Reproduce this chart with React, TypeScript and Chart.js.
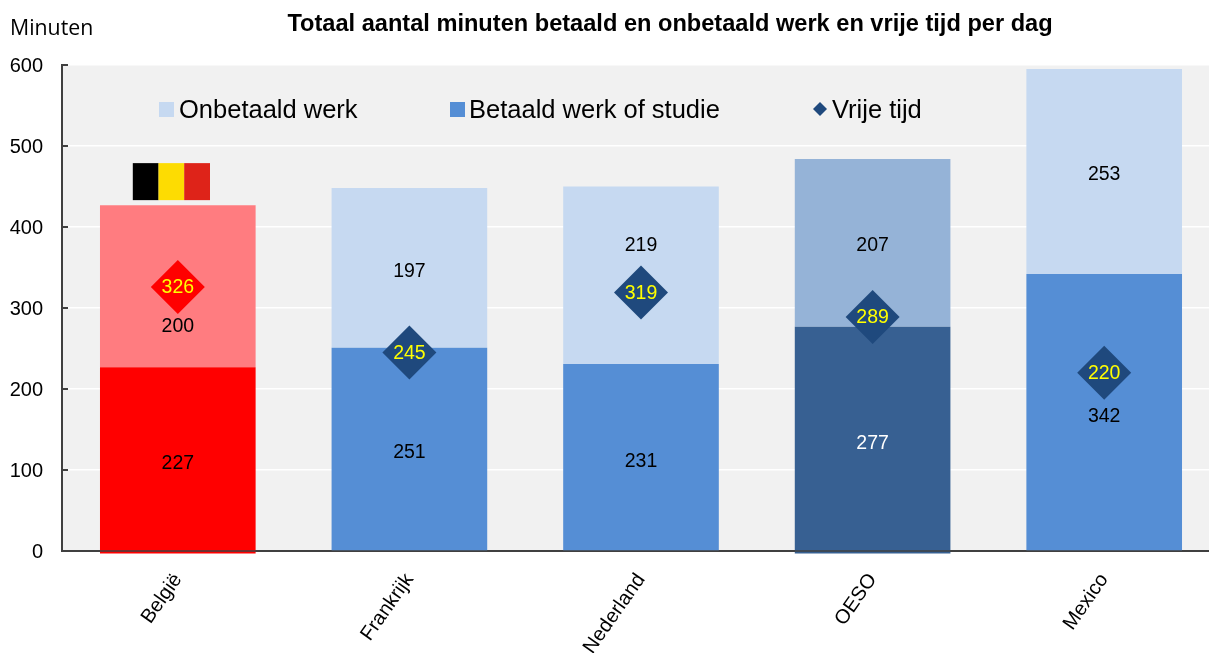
import React, { useEffect, useRef } from "react";
import { Chart, registerables } from "chart.js";

Chart.register(...registerables);

const categories = ["België", "Frankrijk", "Nederland", "OESO", "Mexico"];
const unpaidWork = [200, 197, 219, 207, 253];
const paidWork = [227, 251, 231, 277, 342];
const freeTime = [326, 245, 319, 289, 220];
const axisOverhang = [-3, null, null, -3, null];
const yTicks = [0, 100, 200, 300, 400, 500, 600];

const unpaidColors = ["#ff7c80", "#c6d9f1", "#c6d9f1", "#95b3d7", "#c6d9f1"];
const paidColors = ["#ff0000", "#558ed5", "#558ed5", "#376092", "#558ed5"];
const freeColors = ["#ff0000", "#1f497d", "#1f497d", "#1f497d", "#1f497d"];
const paidLabelColors = ["#000", "#000", "#000", "#fff", "#000"];
// pixel nudges of the value labels from their bar's centre
const paidNudge = [5, 4, 5, 5, 5];
const unpaidNudge = [40, 4, -30, 3, 3];

const SANS = '"Liberation Sans", Arial, sans-serif';

const decor = {
  id: "decor",
  beforeDraw(chart: any) {
    const { ctx, chartArea: a } = chart;
    ctx.save();
    ctx.fillStyle = "#f1f1f1";
    ctx.fillRect(a.left, a.top, a.right - a.left, a.bottom - a.top);
    ctx.restore();
  },
  afterDatasetsDraw(chart: any) {
    const { ctx, scales } = chart;
    const y = scales.y;
    ctx.save();
    // inward tick marks
    ctx.strokeStyle = "#404040";
    ctx.lineWidth = 2;
    y.ticks.forEach((t: any) => {
      const py = Math.round(y.getPixelForValue(t.value));
      ctx.beginPath();
      ctx.moveTo(y.right, py);
      ctx.lineTo(y.right + 6, py);
      ctx.stroke();
    });

    // value labels
    const paidMeta = chart.getDatasetMeta(1);
    const unpaidMeta = chart.getDatasetMeta(2);
    const freeMeta = chart.getDatasetMeta(3);
    ctx.textAlign = "center";
    ctx.textBaseline = "middle";
    ctx.font = `19.5px ${SANS}`;
    categories.forEach((_, i) => {
      const p = paidMeta.data[i];
      const u = unpaidMeta.data[i];
      const f = freeMeta.data[i];
      ctx.fillStyle = paidLabelColors[i];
      ctx.fillText(String(paidWork[i]), p.x, (p.y + p.base) / 2 + paidNudge[i]);
      ctx.fillStyle = "#000";
      ctx.fillText(String(unpaidWork[i]), u.x, (u.y + u.base) / 2 + unpaidNudge[i]);
      ctx.fillStyle = "#ffff00";
      ctx.fillText(String(freeTime[i]), f.x, f.y + 1);
    });

    // Belgian flag above the first bar
    const top = unpaidMeta.data[0];
    const fx = top.x - 45;
    const fy = top.y - 42;
    ["#000000", "#fddc02", "#de2319"].forEach((c, i) => {
      ctx.fillStyle = c;
      ctx.fillRect(fx + i * 25.7, fy, 25.8, 37);
    });

    // title and unit
    ctx.fillStyle = "#000";
    ctx.textAlign = "center";
    ctx.font = `bold 23.6px ${SANS}`;
    ctx.fillText("Totaal aantal minuten betaald en onbetaald werk en vrije tijd per dag", 670, 24);
    ctx.textAlign = "left";
    ctx.font = '21.3px "Open Sans", sans-serif';
    ctx.fillText("Minuten", 10, 29);

    // legend
    ctx.font = `25.5px ${SANS}`;
    ctx.textBaseline = "middle";
    ctx.fillStyle = "#c6d9f1";
    ctx.fillRect(159, 102, 15, 15);
    ctx.fillStyle = "#558ed5";
    ctx.fillRect(450, 102, 15, 15);
    ctx.fillStyle = "#1f497d";
    ctx.beginPath();
    ctx.moveTo(820, 102);
    ctx.lineTo(827, 109);
    ctx.lineTo(820, 116);
    ctx.lineTo(813, 109);
    ctx.closePath();
    ctx.fill();
    ctx.fillStyle = "#000";
    ctx.fillText("Onbetaald werk", 179, 111);
    ctx.fillText("Betaald werk of studie", 469, 111);
    ctx.fillText("Vrije tijd", 832, 111);
    ctx.restore();
  },
};

export default function App() {
  const ref = useRef<HTMLCanvasElement>(null);
  useEffect(() => {
    const bar = { barPercentage: 1, categoryPercentage: 0.672, stack: "time", order: 1, clip: false as any };
    const chart = new Chart(ref.current!, {
      type: "bar",
      data: {
        labels: categories,
        datasets: [
          { ...bar, label: "Overhang", data: axisOverhang, backgroundColor: paidColors },
          { ...bar, label: "Betaald werk of studie", data: paidWork, backgroundColor: paidColors },
          { ...bar, label: "Onbetaald werk", data: unpaidWork, backgroundColor: unpaidColors },
          {
            type: "line",
            label: "Vrije tijd",
            data: freeTime,
            stack: "free",
            order: 0,
            showLine: false,
            pointStyle: "rectRot",
            pointRadius: 27,
            pointBackgroundColor: freeColors,
            pointBorderWidth: 0,
          } as any,
        ],
      },
      options: {
        animation: false,
        responsive: false,
        layout: { padding: { top: 65, left: 0, right: 0, bottom: 0 } },
        plugins: { legend: { display: false }, tooltip: { enabled: false }, title: { display: false } },
        scales: {
          x: {
            stacked: true,
            z: 1,
            grid: { display: false, drawTicks: false },
            border: { display: true, color: "#404040", width: 2 },
            afterFit(s: any) {
              s.height = 102;
            },
            ticks: {
              color: "#000",
              font: { family: SANS, size: 20 },
              minRotation: 55,
              maxRotation: 55,
              padding: 18,
              autoSkip: false,
            },
          },
          y: {
            stacked: true,
            min: 0,
            max: 600,
            afterFit(s: any) { s.width = 62; },
            afterBuildTicks(s: any) { s.ticks = yTicks.map((value) => ({ value })); },
            grid: { color: "#ffffff", lineWidth: 1.5, drawTicks: false },
            border: { display: true, color: "#404040", width: 2 },
            ticks: { color: "#000", font: { family: SANS, size: 20 }, padding: 19, labelOffset: 1 },
          },
        },
      },
      plugins: [decor],
    });
    return () => chart.destroy();
  }, []);
  return (
    <div style={{ position: "fixed", left: 0, top: 0, width: 1209, height: 653, overflow: "hidden", background: "#fff" }}>
      <canvas ref={ref} width={1247} height={653} style={{ display: "block" }} />
    </div>
  );
}
